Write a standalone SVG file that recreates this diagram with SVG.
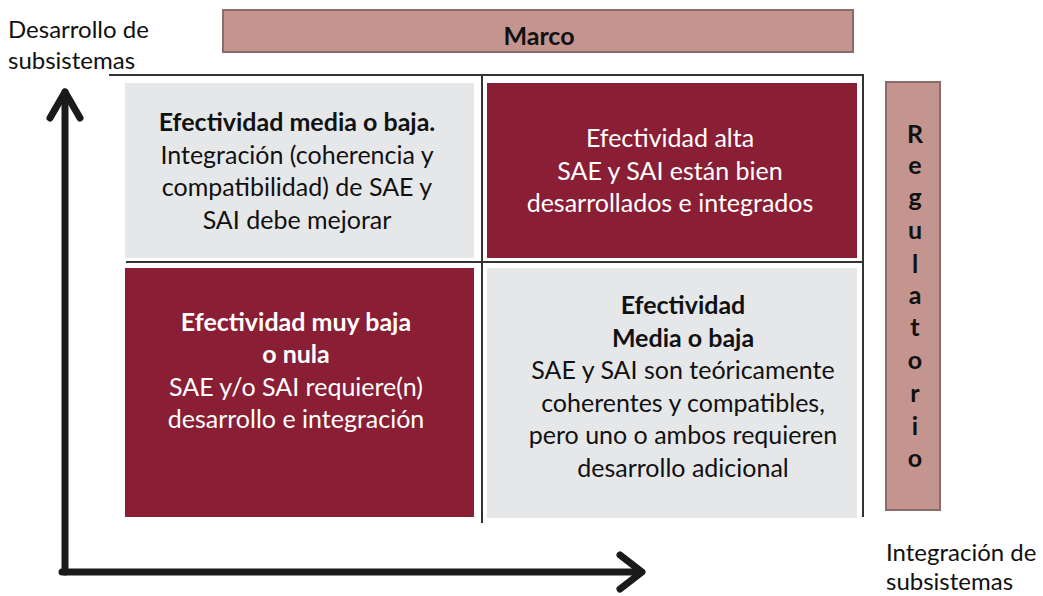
<svg xmlns="http://www.w3.org/2000/svg" width="1043" height="596" viewBox="0 0 1043 596">
<style>
text{font-family:Lato,"Open Sans","Liberation Sans",sans-serif;font-size:25px}
.ax{font-size:24px}
.c{text-anchor:middle}
.b{font-weight:bold}
.w{fill:#ffffff}
.k{fill:#111111}
.gray{fill:#e6e7e9}
.mar{fill:#8a1e35}
.rose{fill:#c4948f;stroke:#8a6c69;stroke-width:2}
.grid{stroke:#333333;stroke-width:2;fill:none}
.axis{stroke:#1a1a1a;stroke-width:7;fill:none;stroke-linecap:round;stroke-linejoin:round}
</style>
<rect width="1043" height="596" fill="#ffffff"/>
<g id="marco">
<rect class="rose" x="223" y="10" width="630" height="42"/>
<text class="c b k" x="539" y="45">Marco</text>
</g>
<g id="regulatorio">
<rect class="rose" x="886" y="82" width="54" height="428"/>
<text class="c b k" x="915" y="143">R</text>
<text class="c b k" x="915" y="174">e</text>
<text class="c b k" x="915" y="206">g</text>
<text class="c b k" x="915" y="239">u</text>
<text class="c b k" x="915" y="273">l</text>
<text class="c b k" x="915" y="304">a</text>
<text class="c b k" x="915" y="336">t</text>
<text class="c b k" x="915" y="369">o</text>
<text class="c b k" x="915" y="402">r</text>
<text class="c b k" x="915" y="435">i</text>
<text class="c b k" x="915" y="467">o</text>
</g>
<g id="q-tl">
<rect class="gray" x="125" y="83" width="349" height="175"/>
<text class="c b k" x="297" y="131">Efectividad media o  baja.</text>
<text class="c k" x="297" y="164">Integración (coherencia y</text>
<text class="c k" x="297" y="196">compatibilidad) de SAE y</text>
<text class="c k" x="297" y="229">SAI debe mejorar</text>
</g>
<g id="q-tr">
<rect class="mar" x="487" y="83" width="370" height="175"/>
<text class="c w" x="670" y="147">Efectividad alta</text>
<text class="c w" x="670" y="180">SAE y SAI están bien</text>
<text class="c w" x="670" y="212">desarrollados e integrados</text>
</g>
<g id="q-bl">
<rect class="mar" x="125" y="268" width="349" height="249"/>
<text class="c b w" x="296" y="331">Efectividad muy baja</text>
<text class="c b w" x="296" y="363">o nula</text>
<text class="c w" x="296" y="396">SAE y/o SAI requiere(n)</text>
<text class="c w" x="296" y="428">desarrollo e integración</text>
</g>
<g id="q-br">
<rect class="gray" x="487" y="268" width="370" height="250"/>
<text class="c b k" x="683" y="314">Efectividad</text>
<text class="c b k" x="683" y="347">Media o baja</text>
<text class="c k" x="683" y="379">SAE y SAI son teóricamente</text>
<text class="c k" x="683" y="412">coherentes y compatibles,</text>
<text class="c k" x="683" y="444">pero  uno o ambos requieren</text>
<text class="c k" x="683" y="477">desarrollo adicional</text>
</g>
<g id="labels">
<text class="k ax" x="8" y="38">Desarrollo de</text>
<text class="k ax" x="8" y="69">subsistemas</text>
<text class="k ax" x="886" y="561">Integración de</text>
<text class="k ax" x="886" y="590">subsistemas</text>
</g>
<g id="connectors">
<path class="grid" d="M109 75H863V517"/>
<path class="grid" d="M482 75V523"/>
<path class="grid" d="M126 262H863"/>
<path class="axis" d="M65 572V92"/>
<path class="axis" d="M50 118L65 92L80 118"/>
<path class="axis" d="M62 572H640"/>
<path class="axis" d="M620 555L642 572L620 589"/>
</g>
</svg>
